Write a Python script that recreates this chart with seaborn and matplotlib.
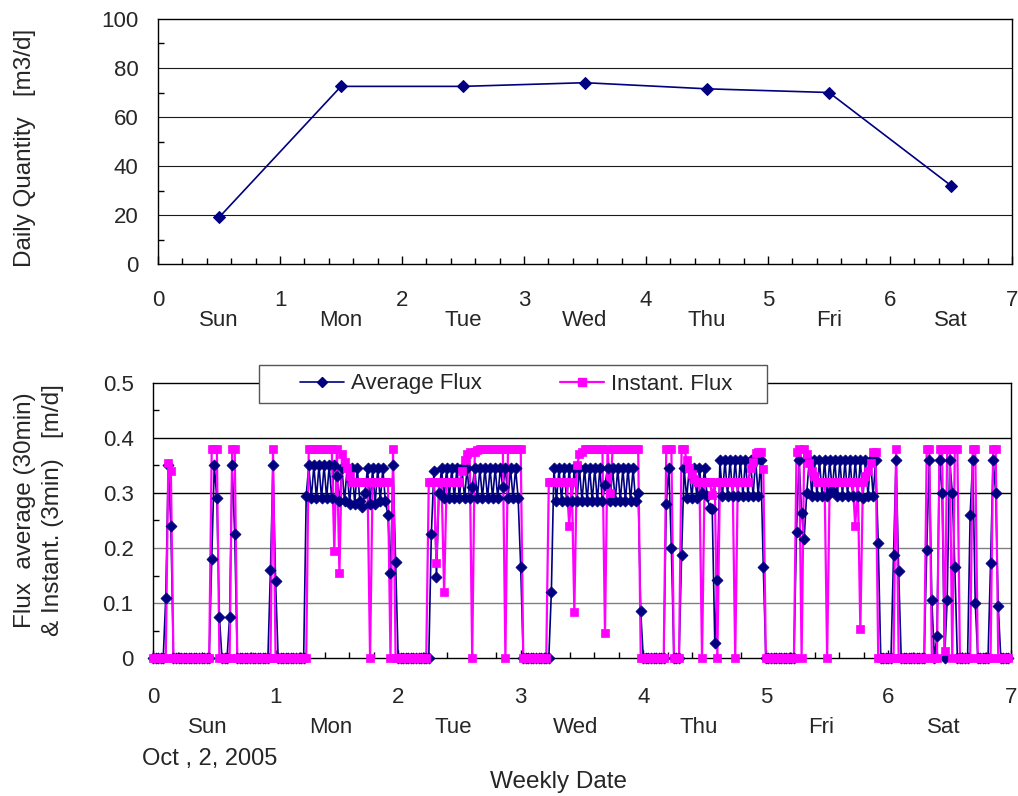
import numpy as np
import pandas as pd
import matplotlib
matplotlib.use("Agg")
import matplotlib.pyplot as plt
from matplotlib.lines import Line2D
from matplotlib.patches import Rectangle
from matplotlib.ticker import MultipleLocator
import seaborn as sns

days = ["Sun", "Mon", "Tue", "Wed", "Thu", "Fri", "Sat"]
daily_qty = [19, 72.5, 72.5, 74, 71.5, 70, 32]

# 30-min average flux, 48 values per day [m/d]
avg_sun = [
    0, 0, 0, 0, 0, .11, .35, .24, 0, 0, 0, 0,
    0, 0, 0, 0, 0, 0, 0, 0, 0, 0, 0, .18,
    .35, .29, .075, 0, 0, 0, .075, .35, .225, 0, 0, 0,
    0, 0, 0, 0, 0, 0, 0, 0, 0, 0, .16, .35,
]
avg_mon = [
    .14, 0, 0, 0, 0, 0, 0, 0, 0, 0, 0, 0,
    .295, .35, .29, .35, .29, .35, .29, .35, .29, .35, .29, .35,
    .33, .285, .345, .285, .345, .28, .345, .28, .345, .285, .275, .30,
    .345, .28, .345, .28, .345, .285, .345, .285, .26, .155, .35, .175,
]
avg_tue = [
    0, 0, 0, 0, 0, 0, 0, 0, 0, 0, 0, 0,
    0, .225, .34, .147, .30, .345, .29, .345, .29, .345, .29, .345,
    .29, .345, .29, .345, .29, .31, .345, .29, .345, .29, .345, .29,
    .345, .29, .345, .29, .345, .31, .345, .29, .345, .29, .345, .29,
]
avg_wed = [
    .165, 0, 0, 0, 0, 0, 0, 0, 0, 0, 0, 0,
    .12, .345, .285, .345, .285, .345, .285, .345, .285, .345, .285, .345,
    .285, .345, .285, .345, .285, .345, .285, .345, .285, .315, .345, .285,
    .345, .285, .345, .285, .345, .285, .345, .285, .345, .285, .30, .085,
]
avg_thu = [
    0, 0, 0, 0, 0, 0, 0, 0, 0, .28, .345, .20,
    0, 0, 0, .187, .345, .29, .345, .29, .345, .29, .345, .30,
    .345, .295, .272, .27, .028, .142, .36, .295, .36, .295, .36, .295,
    .36, .295, .36, .295, .36, .295, .36, .295, .36, .295, .36, .165,
]
avg_fri = [
    0, 0, 0, 0, 0, 0, 0, 0, 0, 0, 0, 0,
    .23, .36, .263, .216, .30, .36, .295, .36, .295, .36, .295, .36,
    .295, .36, .305, .36, .295, .36, .295, .36, .295, .36, .295, .36,
    .295, .36, .29, .36, .295, .36, .295, .36, .21, 0, 0, 0,
]
avg_sat = [
    0, 0, .187, .36, .158, 0, 0, 0, 0, 0, 0, 0,
    0, 0, 0, .197, .36, .105, 0, .04, .36, .30, 0, .105,
    .36, .30, .165, 0, 0, 0, 0, 0, .26, .36, .10, 0,
    0, 0, 0, 0, .172, .36, .30, .095, 0, 0, 0, 0,
]

# instantaneous flux sampled on the same 30-min grid [m/d]
inst_sun = [
    0, 0, 0, 0, 0, 0, .355, .34, 0, 0, 0, 0,
    0, 0, 0, 0, 0, 0, 0, 0, 0, 0, 0, .38,
    .38, .38, 0, 0, 0, 0, 0, .38, .38, 0, 0, 0,
    0, 0, 0, 0, 0, 0, 0, 0, 0, 0, 0, .38,
]
inst_mon = [
    0, 0, 0, 0, 0, 0, 0, 0, 0, 0, 0, 0,
    0, .38, .38, .38, .38, .38, .38, .38, .38, .38, .38, .195,
    .38, .155, .37, .357, .345, .33, .32, .32, .32, .32, .32, .32,
    .32, 0, .32, .32, .32, .32, .32, .32, .32, 0, .38, 0,
]
inst_tue = [
    0, 0, 0, 0, 0, 0, 0, 0, 0, 0, 0, 0,
    .32, .32, .32, .173, .32, .32, .12, .32, .32, .32, .32, .32,
    .32, .34, .36, .37, .375, 0, .375, .378, .38, .38, .38, .38,
    .38, .38, .38, .38, .38, .38, 0, .38, .38, .38, .38, .38,
]
inst_wed = [
    .38, 0, 0, 0, 0, 0, 0, 0, 0, 0, 0, .32,
    .32, .32, .32, .32, .32, .32, .32, .24, .32, .084, .35, .37,
    .375, .38, .38, .38, .38, .38, .38, .38, .38, .045, .38, .30,
    .38, .38, .38, .38, .38, .38, .38, .38, .38, .38, .38, 0,
]
inst_thu = [
    0, 0, 0, 0, 0, 0, 0, 0, 0, .38, .38, .38,
    0, 0, 0, .38, .38, .36, .345, .335, .325, .32, .32, 0,
    .32, .32, .32, .296, .32, 0, .32, .32, .32, .32, .32, .32,
    0, .32, .32, .32, .32, .32, .345, .357, .372, .375, .375, .343,
]
inst_fri = [
    0, 0, 0, 0, 0, 0, 0, 0, 0, 0, 0, 0,
    .375, .38, 0, .38, .37, .355, .34, .33, .32, .32, .32, .32,
    0, .32, .32, .32, .32, .32, .32, .32, .32, .32, .32, .24,
    .32, .052, .32, .33, .34, .355, .375, .375, 0, 0, 0, 0,
]
inst_sat = [
    0, 0, 0, .38, 0, 0, 0, 0, 0, 0, 0, 0,
    0, 0, 0, .38, .38, 0, 0, 0, .38, .38, .013, .38,
    .38, 0, .38, .38, 0, 0, 0, 0, 0, .38, .38, 0,
    0, 0, 0, 0, 0, .38, .38, 0, 0, 0, 0, 0,
]

NAVY = "#000080"
MAGENTA = "#FF00FF"
FS = 16

avg = np.concatenate([avg_sun, avg_mon, avg_tue, avg_wed, avg_thu, avg_fri, avg_sat])
inst = np.concatenate([inst_sun, inst_mon, inst_tue, inst_wed, inst_thu, inst_fri, inst_sat])
t = np.arange(len(avg)) / 48.0
flux = pd.DataFrame({"t": t, "avg": avg, "inst": inst})
top = pd.DataFrame({"day": np.arange(len(daily_qty)) + 0.5, "qty": daily_qty})

sns.set_style("ticks")
plt.rcParams["font.family"] = ["Liberation Sans", "DejaVu Sans"]
plt.rcParams["font.size"] = FS

W, H = 1018, 796
fig = plt.figure(figsize=(W / 100, H / 100), dpi=100)


def px_box(l, t_, r, b):
    return [l / W, 1 - b / H, (r - l) / W, (b - t_) / H]


ax1 = fig.add_axes(px_box(158, 19, 1012, 264))
ax2 = fig.add_axes(px_box(153, 383, 1011, 658))

# ---- top: daily quantity ----
for y in [20, 40, 60, 80]:
    ax1.axhline(y, color="#1a1a1a", lw=0.8, zorder=1)
sns.lineplot(data=top, x="day", y="qty", ax=ax1, color=NAVY, lw=1.2,
             marker="D", markersize=6, markeredgecolor=NAVY, clip_on=False, zorder=3)

# ---- bottom: flux ----
grid_cols = {0.1: "#808080", 0.2: "#808080", 0.3: "#000000", 0.4: "#000000"}
for y, c in grid_cols.items():
    ax2.axhline(y, color=c, lw=1.0, zorder=1)

sns.lineplot(data=flux, x="t", y="avg", ax=ax2, color=NAVY, lw=1.2,
             estimator=None, sort=False, clip_on=False, zorder=2)
sns.lineplot(data=flux, x="t", y="inst", ax=ax2, color=MAGENTA, lw=1.6,
             estimator=None, sort=False, clip_on=False, zorder=2.1)
sns.scatterplot(data=flux, x="t", y="avg", ax=ax2, marker="D", s=32, color=NAVY,
                edgecolor=NAVY, linewidth=0.5, clip_on=False, zorder=3)
sns.scatterplot(data=flux, x="t", y="inst", ax=ax2, marker="s", s=38, color=MAGENTA,
                edgecolor=MAGENTA, linewidth=0.5, clip_on=False, zorder=3.1)

# axes styling shared by both panels
for ax, ymax, ylabels in [
    (ax1, 100, ["0", "20", "40", "60", "80", "100"]),
    (ax2, 0.5, ["0", "0.1", "0.2", "0.3", "0.4", "0.5"]),
]:
    for s in ax.spines.values():
        s.set_visible(True)
        s.set_color("black")
        s.set_linewidth(1.0)
    ax.set_xlim(0, 7)
    ax.set_ylim(0, ymax)
    ax.set_xlabel("")
    ax.set_ylabel("")
    ax.set_xticks(np.arange(8))
    ax.xaxis.set_minor_locator(MultipleLocator(0.2))
    ax.set_xticklabels([])
    ax.set_yticks(np.linspace(0, ymax, 6))
    ax.set_yticklabels(ylabels)
    ax.yaxis.set_minor_locator(MultipleLocator(ymax / 10))
    ax.tick_params(axis="both", which="both", direction="in", color="black",
                   top=False, right=False)
    ax.tick_params(axis="x", which="major", length=6, width=1)
    ax.tick_params(axis="x", which="minor", length=4, width=1)
    ax.tick_params(axis="y", which="major", length=0, pad=14, labelsize=FS)
    ax.tick_params(axis="y", which="minor", length=4, width=1)
    ax.set_facecolor("white")

# custom x labels: numbers on one row, weekday names below
tr1 = ax1.get_xaxis_transform()
tr2 = ax2.get_xaxis_transform()
for i in range(8):
    ax1.text(i, -0.147, str(i), transform=tr1, ha="center", va="center", fontsize=FS)
    ax2.text(i, -0.142, str(i), transform=tr2, ha="center", va="center", fontsize=FS)
for i, d in enumerate(days):
    ax1.text(i + 0.5, -0.229, d, transform=tr1, ha="center", va="center", fontsize=FS)
    ax2.text(i + 0.45, -0.251, d, transform=tr2, ha="center", va="center", fontsize=FS)
ax2.text(0.46, -0.367, "Oct , 2, 2005", transform=tr2, ha="center", va="center", fontsize=17)
ax2.text(3.31, -0.451, "Weekly Date", transform=tr2, ha="center", va="center", fontsize=17.5)

fig.text(25 / W, 1 - 148 / H, "Daily Quantity   [m3/d]", rotation=90,
         ha="center", va="center", fontsize=17.5)
fig.text(39 / W, 1 - 510 / H, "Flux  average (30min)\n& Instant. (3min)   [m/d]",
         rotation=90, ha="center", va="center", fontsize=17.5, linespacing=1.3)

# legend: manual box over the top spine, entries inside
ax2.add_patch(Rectangle((259 / W, 1 - 403 / H), (767 - 259) / W, (403 - 365) / H,
                        transform=fig.transFigure, facecolor="white", edgecolor="#555555",
                        lw=1.0, clip_on=False, zorder=4.5))
handles = [
    Line2D([], [], color=NAVY, lw=1.2, marker="D", markersize=5.5, markeredgecolor=NAVY),
    Line2D([], [], color=MAGENTA, lw=1.6, marker="s", markersize=6, markeredgecolor=MAGENTA),
]
leg = ax2.legend(handles, ["Average Flux", "Instant. Flux"], ncol=2, frameon=False,
                 loc="center", bbox_to_anchor=(516 / W, 1 - 384 / H),
                 bbox_transform=fig.transFigure, fontsize=FS, handlelength=2.0,
                 handletextpad=0.3, columnspacing=3.5, borderpad=0.2)
leg.set_zorder(5)

fig.savefig("out.png", dpi=100, facecolor="white")
